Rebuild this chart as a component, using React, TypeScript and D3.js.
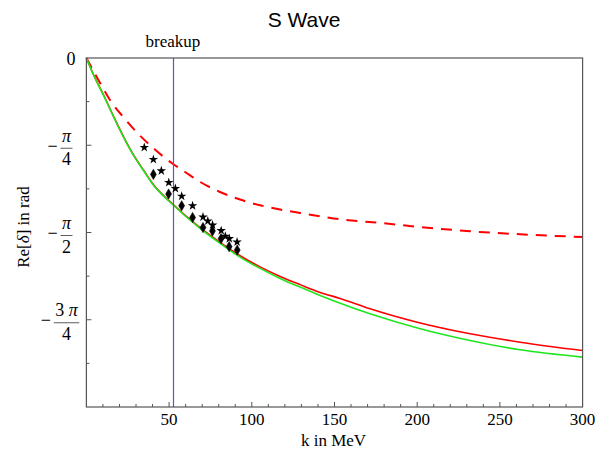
import React, { useEffect, useRef } from "react";
import * as d3 from "d3";

// k in MeV, phase in rad
const greenK = [0, 4.6, 10.6, 16.7, 22.7, 28.8, 34.8, 39.9, 53.0, 68.7, 80.8, 92.9, 105.0, 117.1, 129.2, 141.3, 151.4, 171.5, 201.8, 232.0, 262.3, 300];
const greenPhase = [0, -0.162, -0.343, -0.538, -0.719, -0.884, -1.019, -1.132, -1.33, -1.533, -1.668, -1.792, -1.894, -1.984, -2.062, -2.137, -2.196, -2.302, -2.437, -2.543, -2.627, -2.693];

const redK = [0, 4.6, 10.6, 16.7, 22.7, 28.8, 34.8, 39.9, 53.0, 68.7, 80.8, 92.9, 105.0, 117.1, 129.2, 141.3, 153.4, 171.5, 200, 232.0, 262.3, 300];
const redPhase = [0, -0.16, -0.34, -0.535, -0.716, -0.88, -1.015, -1.128, -1.326, -1.528, -1.66, -1.78, -1.88, -1.966, -2.04, -2.11, -2.164, -2.257, -2.378, -2.482, -2.558, -2.633];

const dashedK = [0, 7.6, 14.7, 22.7, 30.8, 38.9, 52.0, 59.0, 68.7, 80.8, 92.9, 105.0, 117.1, 129.2, 141.3, 153.4, 177.6, 201.8, 232.0, 262.3, 300];
const dashedPhase = [0, -0.207, -0.388, -0.538, -0.674, -0.79, -0.95, -1.019, -1.115, -1.206, -1.274, -1.326, -1.364, -1.395, -1.425, -1.452, -1.485, -1.521, -1.56, -1.587, -1.611];

const starK = [35.0, 40.5, 45.3, 49.8, 53.8, 57.6, 64.2, 70.5, 73.4, 76.3, 81.5, 84.0, 86.4, 91.1];
const starPhase = [-0.805, -0.913, -1.016, -1.121, -1.175, -1.244, -1.33, -1.432, -1.468, -1.504, -1.554, -1.605, -1.626, -1.657];

const diamondK = [40.5, 49.7, 57.6, 64.2, 70.5, 76.2, 81.4, 86.3, 91.2];
const diamondPhase = [-1.048, -1.224, -1.33, -1.436, -1.526, -1.557, -1.626, -1.698, -1.729];

const breakupK = 52.3;

const xTickLabels = [50, 100, 150, 200, 250, 300];
const yLabelValues = [-Math.PI / 4, -Math.PI / 2, (-3 * Math.PI) / 4];
const yLabelCoef = ["", "", "3"];
const yLabelDen = ["4", "2", "4"];

const SERIF = "'Liberation Serif', 'Times New Roman', serif";
const SANS = "'Liberation Sans', Arial, sans-serif";

const App = () => {
  const svgRef = useRef<SVGSVGElement>(null);

  useEffect(() => {
    const svg = d3.select(svgRef.current);
    svg.selectAll("*").remove();

    const width = 595;
    const height = 455;
    const margin = { top: 58, right: 12.4, bottom: 48, left: 86.4 };

    const x = d3.scaleLinear().domain([0, 300]).range([margin.left, width - margin.right]);
    const y = d3.scaleLinear().domain([-Math.PI, 0]).range([height - margin.bottom, margin.top]);

    svg.append("rect").attr("width", width).attr("height", height).attr("fill", "#fff");

    // --- Title and labels ---
    svg
      .append("text")
      .attr("x", 304)
      .attr("y", 27)
      .attr("text-anchor", "middle")
      .style("font-family", SANS)
      .style("font-size", "21px")
      .text("S Wave");

    svg
      .append("text")
      .attr("x", x(breakupK))
      .attr("y", 47)
      .attr("text-anchor", "middle")
      .style("font-family", SERIF)
      .style("font-size", "17px")
      .text("breakup");

    svg
      .append("text")
      .attr("x", 333.5)
      .attr("y", 446)
      .attr("text-anchor", "middle")
      .style("font-family", SERIF)
      .style("font-size", "17px")
      .text("k in MeV");

    const yTitle = svg
      .append("text")
      .attr("transform", "translate(29, 227) rotate(-90)")
      .attr("text-anchor", "middle")
      .style("font-family", SERIF)
      .style("font-size", "17px");
    yTitle.append("tspan").text("Re[");
    yTitle.append("tspan").style("font-style", "italic").text("δ");
    yTitle.append("tspan").text("] in rad");

    // --- Ticks ---
    const axisColor = "#555";
    const xMinor = d3.range(10, 300, 10);
    svg
      .append("g")
      .selectAll("line")
      .data(xMinor)
      .join("line")
      .attr("x1", (d) => x(d))
      .attr("x2", (d) => x(d))
      .attr("y1", y(-Math.PI))
      .attr("y2", (d) => y(-Math.PI) - (d % 50 === 0 ? 5 : 3))
      .attr("stroke", axisColor)
      .attr("stroke-width", 1);

    svg
      .append("g")
      .selectAll("text")
      .data(xTickLabels)
      .join("text")
      .attr("x", (d) => x(d))
      .attr("y", 425)
      .attr("text-anchor", "middle")
      .style("font-family", SERIF)
      .style("font-size", "17px")
      .text((d) => d);

    const yMinor = d3.range(1, 8).map((i) => (-i * Math.PI) / 8);
    svg
      .append("g")
      .selectAll("line")
      .data(yMinor)
      .join("line")
      .attr("x1", x(0))
      .attr("x2", (d, i) => x(0) + (i % 2 === 1 ? 5 : 3))
      .attr("y1", (d) => y(d))
      .attr("y2", (d) => y(d))
      .attr("stroke", axisColor)
      .attr("stroke-width", 1);

    // zero label
    svg
      .append("text")
      .attr("x", 71)
      .attr("y", y(0) + 7)
      .attr("text-anchor", "middle")
      .style("font-family", SERIF)
      .style("font-size", "18px")
      .text("0");

    // fraction labels  -π/4, -π/2, -3π/4
    yLabelValues.forEach((v, i) => {
      const ty = y(v);
      const g = svg.append("g");
      const num = g
        .append("text")
        .attr("y", ty - 3.5)
        .attr("text-anchor", "middle")
        .style("font-family", SERIF)
        .style("font-size", "18px");
      if (yLabelCoef[i]) num.append("tspan").text(yLabelCoef[i] + " ");
      num.append("tspan").style("font-style", "italic").text("π");
      const den = g
        .append("text")
        .attr("y", ty + 20)
        .attr("text-anchor", "middle")
        .style("font-family", SERIF)
        .style("font-size", "18px")
        .text(yLabelDen[i]);
      const numW = (num.node() as SVGTextElement).getComputedTextLength();
      const denW = (den.node() as SVGTextElement).getComputedTextLength();
      const barW = Math.max(numW, denW) + 3;
      const minusW = 10;
      const gap = 3;
      const total = minusW + gap + barW;
      const left = 60 - total / 2;
      const cx = left + minusW + gap + barW / 2;
      num.attr("x", cx);
      den.attr("x", cx);
      g.append("text")
        .attr("x", left)
        .attr("y", ty + 6.5)
        .style("font-family", SERIF)
        .style("font-size", "18px")
        .text("−");
      g.append("line")
        .attr("x1", cx - barW / 2)
        .attr("x2", cx + barW / 2)
        .attr("y1", ty + 3)
        .attr("y2", ty + 3)
        .attr("stroke", "#333")
        .attr("stroke-width", 0.8);
    });

    // --- Curves ---
    const line = d3
      .line<[number, number]>()
      .x((d) => x(d[0]))
      .y((d) => y(d[1]))
      .curve(d3.curveMonotoneX);

    const plot = svg.append("g");

    plot
      .append("path")
      .attr("d", line(dashedK.map((k, i) => [k, dashedPhase[i]])))
      .attr("fill", "none")
      .attr("stroke", "#ff0000")
      .attr("stroke-width", 2)
      .attr("stroke-dasharray", "11,8");

    plot
      .append("path")
      .attr("d", line(redK.map((k, i) => [k, redPhase[i]])))
      .attr("fill", "none")
      .attr("stroke", "#ff0000")
      .attr("stroke-width", 1.6);

    plot
      .append("path")
      .attr("d", line(greenK.map((k, i) => [k, greenPhase[i]])))
      .attr("fill", "none")
      .attr("stroke", "#1ee61e")
      .attr("stroke-width", 1.6);

    // breakup line, snapped to a pixel column
    const bx = Math.round(x(breakupK)) + 0.5;
    plot
      .append("line")
      .attr("x1", bx)
      .attr("x2", bx)
      .attr("y1", y(0))
      .attr("y2", y(-Math.PI))
      .attr("stroke", "#5a5ab4")
      .attr("stroke-width", 1.2);

    // --- Data points ---
    const star = d3.symbol().type(d3.symbolStar).size(28);
    plot
      .append("g")
      .selectAll("path")
      .data(starK.map((k, i) => [k, starPhase[i]]))
      .join("path")
      .attr("transform", (d) => `translate(${x(d[0])}, ${y(d[1])})`)
      .attr("d", star())
      .attr("fill", "#000");

    const diamond = d3.symbol().type(d3.symbolDiamond).size(30);
    plot
      .append("g")
      .selectAll("path")
      .data(diamondK.map((k, i) => [k, diamondPhase[i]]))
      .join("path")
      .attr("transform", (d) => `translate(${x(d[0])}, ${y(d[1])})`)
      .attr("d", diamond())
      .attr("fill", "#000")
      .attr("stroke", "#000")
      .attr("stroke-width", 0.6)
      .attr("stroke-linejoin", "round");

    // --- Frame ---
    svg
      .append("rect")
      .attr("x", x(0))
      .attr("y", y(0))
      .attr("width", x(300) - x(0))
      .attr("height", y(-Math.PI) - y(0))
      .attr("fill", "none")
      .attr("stroke", axisColor)
      .attr("stroke-width", 1.2);
  }, []);

  return (
    <svg
      ref={svgRef}
      width={595}
      height={455}
      style={{ position: "absolute", left: 0, top: 0, display: "block" }}
    ></svg>
  );
};

export default App;
